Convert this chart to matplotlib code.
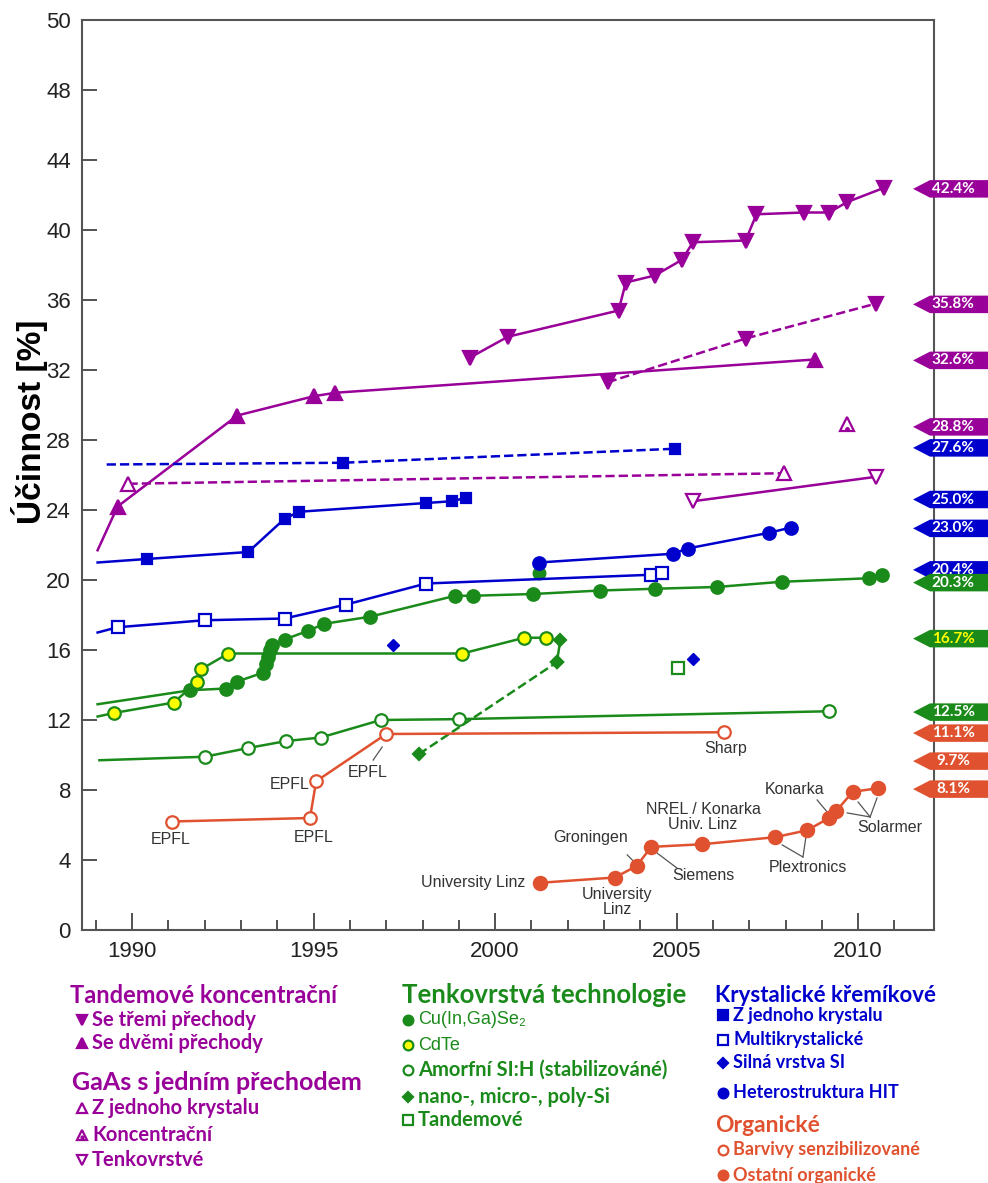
import matplotlib
matplotlib.use('Agg')
import matplotlib.pyplot as plt
from matplotlib.patches import Polygon
from matplotlib.transforms import blended_transform_factory

PURPLE = '#990099'
BLUE = '#0000cd'
GREEN = '#1a8a1a'
RED = '#e0522f'
YELLOW = '#ffff00'
GREY = '#333333'

# --- Tandem concentrators ---
tri3_year = [1999.3, 2000.35, 2003.4, 2003.6, 2004.4, 2005.15, 2005.45, 2006.9, 2007.2, 2008.5, 2009.2, 2009.7, 2010.7]
tri3_eff = [32.7, 33.9, 35.4, 37.0, 37.4, 38.3, 39.3, 39.4, 40.9, 41.0, 41.0, 41.6, 42.4]
tri3n_year = [2003.1, 2006.9, 2010.5]
tri3n_eff = [31.3, 33.8, 35.8]
tri2_year = [1989.05, 1989.6, 1992.9, 1995.0, 1995.6, 2008.8]
tri2_eff = [21.7, 24.2, 29.4, 30.5, 30.7, 32.6]

# --- GaAs single junction ---
gaas_sc_year = [1989.9, 2007.95]
gaas_sc_eff = [25.5, 26.1]
gaas_conc_year = [2009.7]
gaas_conc_eff = [28.9]
gaas_tf_year = [2005.45, 2010.5]
gaas_tf_eff = [24.5, 25.9]

# --- Crystalline Si ---
si_conc_year = [1989.3, 1995.8, 2004.95]
si_conc_eff = [26.6, 26.7, 27.5]
si_sc_year = [1989.05, 1990.4, 1993.2, 1994.2, 1994.6, 1998.1, 1998.8, 1999.2]
si_sc_eff = [21.0, 21.2, 21.6, 23.5, 23.9, 24.4, 24.5, 24.7]
si_mc_year = [1989.05, 1989.6, 1992.0, 1994.2, 1995.9, 1998.1, 2004.3, 2004.6]
si_mc_eff = [17.0, 17.3, 17.7, 17.8, 18.6, 19.8, 20.3, 20.4]
hit_year = [2001.2, 2004.9, 2005.3, 2007.55, 2008.15]
hit_eff = [21.0, 21.5, 21.8, 22.7, 23.0]
thick_year = [1997.2, 2005.45]
thick_eff = [16.3, 15.5]

# --- Thin film ---
cigs_year = [1989.05, 1991.6, 1992.6, 1992.9, 1993.6, 1993.7, 1993.75, 1993.8, 1993.85, 1994.2, 1994.85,
             1995.3, 1996.55, 1998.9, 1999.4, 2001.05, 2002.9, 2004.4, 2006.1, 2007.9, 2010.3, 2010.65]
cigs_eff = [12.9, 13.7, 13.8, 14.2, 14.7, 15.2, 15.6, 16.0, 16.3, 16.6, 17.1,
            17.5, 17.9, 19.1, 19.1, 19.2, 19.4, 19.5, 19.6, 19.9, 20.1, 20.3]
cigs_extra_year = [2001.2]
cigs_extra_eff = [20.4]
cdte_year = [1989.05, 1989.5, 1991.15, 1991.8, 1991.9, 1992.65, 1999.1, 2000.8, 2001.4]
cdte_eff = [12.2, 12.4, 13.0, 14.2, 14.9, 15.8, 15.8, 16.7, 16.7]
asi_year = [1989.1, 1992.0, 1993.2, 1994.25, 1995.2, 1996.85, 1999.0, 2009.2]
asi_eff = [9.7, 9.9, 10.4, 10.8, 11.0, 12.0, 12.05, 12.5]
nano_year = [1997.9, 2001.7, 2001.8]
nano_eff = [10.05, 15.3, 16.6]
tftandem_year = [2005.05]
tftandem_eff = [15.0]

# --- Organic ---
dye_year = [1991.1, 1994.9, 1995.07, 1997.0, 2006.3]
dye_eff = [6.2, 6.4, 8.5, 11.2, 11.3]
org_year = [2001.25, 2003.3, 2003.9, 2004.3, 2005.7, 2007.7, 2008.6, 2009.2, 2009.4, 2009.85, 2010.55]
org_eff = [2.7, 3.0, 3.66, 4.75, 4.9, 5.3, 5.7, 6.4, 6.8, 7.9, 8.1]

# record tags on the right
tag_values = [42.4, 35.8, 32.6, 28.8, 27.6, 25.0, 23.0, 20.4, 20.3, 16.7, 12.5, 11.1, 9.7, 8.1]
tag_colors = [PURPLE, PURPLE, PURPLE, PURPLE, BLUE, BLUE, BLUE, BLUE, GREEN, GREEN, GREEN, RED, RED, RED]

yticks = [0, 4, 8, 12, 16, 20, 24, 28, 32, 36, 40, 44, 48, 52]
ytick_labels = ['0', '4', '8', '12', '16', '20', '24', '28', '32', '36', '40', '44', '48', '50']
xticks = [1990, 1995, 2000, 2005, 2010]

ARIAL = ['Liberation Sans', 'DejaVu Sans']
CAL = ['Lato', 'DejaVu Sans']

fig = plt.figure(figsize=(9.88, 11.83), dpi=100)
ax = fig.add_axes([82/988, 1-930/1183, 852/988, 910/1183])
ax.set_xlim(1988.62, 2012.09)
ax.set_ylim(0, 52)


def draw(xs, ys, color, marker, ms, face, ls='-', skip=0, mec=None, mew=1.6):
    ax.plot(xs, ys, color=color, lw=1.8, ls=ls, marker=marker, ms=ms,
            mfc=face, mec=mec or color, mew=mew, markevery=slice(skip, None), zorder=3)


# tandem
draw(tri3_year, tri3_eff, PURPLE, 'v', 10.5, PURPLE)
draw(tri3n_year, tri3n_eff, PURPLE, 'v', 10.5, PURPLE, ls='--')
draw(tri2_year, tri2_eff, PURPLE, '^', 10.5, PURPLE, skip=1)
# GaAs
draw(gaas_sc_year, gaas_sc_eff, PURPLE, '^', 10.5, 'white', ls='--')
draw(gaas_conc_year, gaas_conc_eff, PURPLE, '^', 10.5, 'white')
ax.plot(gaas_conc_year, [v - 0.25 for v in gaas_conc_eff], 'o', ms=2.5, color=PURPLE, zorder=4)
draw(gaas_tf_year, gaas_tf_eff, PURPLE, 'v', 10.5, 'white')
# crystalline Si
draw(si_conc_year, si_conc_eff, BLUE, 's', 7.5, BLUE, ls='--', skip=1)
draw(si_sc_year, si_sc_eff, BLUE, 's', 7.5, BLUE, skip=1)
draw(si_mc_year, si_mc_eff, BLUE, 's', 8.5, 'white', skip=1)
draw(hit_year, hit_eff, BLUE, 'o', 9, BLUE)
ax.plot(thick_year, thick_eff, 'D', ms=6.5, color=BLUE, zorder=3)
# thin film
ax.plot(cigs_extra_year, cigs_extra_eff, 'o', ms=9, color=GREEN, zorder=2)
draw(cigs_year, cigs_eff, GREEN, 'o', 9, GREEN, skip=1)
draw(cdte_year, cdte_eff, GREEN, 'o', 9, YELLOW, skip=1)
draw(asi_year, asi_eff, GREEN, 'o', 9, 'white', skip=1)
draw(nano_year[:2], nano_eff[:2], GREEN, 'D', 6.5, GREEN, ls='--')
draw(nano_year[1:], nano_eff[1:], GREEN, 'D', 6.5, GREEN)
draw(tftandem_year, tftandem_eff, GREEN, 's', 9, 'white')
# organic
draw(dye_year, dye_eff, RED, 'o', 9, 'white')
draw(org_year, org_eff, RED, 'o', 9.5, RED)

# annotations
afont = dict(family=ARIAL, fontsize=11.5, color=GREY, ha='center', va='center')
ax.text(1991.05, 5.15, 'EPFL', **afont)
ax.text(1994.99, 5.3, 'EPFL', **afont)
ax.text(1994.35, 8.3, 'EPFL', **afont)
ax.text(1996.5, 9.0, 'EPFL', **afont)
ax.text(2006.34, 10.35, 'Sharp', **afont)
ax.text(2000.83, 2.74, 'University Linz', **dict(afont, ha='right'))
ax.text(2003.36, 1.6, 'University\nLinz', linespacing=1.0, **afont)
ax.text(2002.62, 5.26, 'Groningen', **afont)
ax.text(2005.73, 3.14, 'Siemens', **afont)
ax.text(2005.73, 6.45, 'NREL / Konarka\nUniv. Linz', linespacing=1.0, **afont)
ax.text(2008.26, 8.0, 'Konarka', **afont)
ax.text(2008.62, 3.6, 'Plextronics', **afont)
ax.text(2010.88, 5.83, 'Solarmer', **afont)
leaders = [((1996.64, 9.71), (1996.89, 10.46)),
           ((2003.64, 4.29), (2003.86, 3.83)),
           ((2004.46, 4.4), (2005.01, 3.54)),
           ((2008.87, 7.43), (2009.15, 6.74)),
           ((2007.91, 4.86), (2008.48, 4.17)),
           ((2008.57, 5.43), (2008.48, 4.17)),
           ((2009.70, 6.69), (2010.33, 6.46)),
           ((2010.0, 7.31), (2010.33, 6.46)),
           ((2010.52, 7.54), (2010.33, 6.46))]
for (x0, y0), (x1, y1) in leaders:
    ax.plot([x0, x1], [y0, y1], color='#555555', lw=0.9, zorder=2)

# right tags
trans = blended_transform_factory(ax.transAxes, ax.transData)
nudge = {25.0: -0.4, 20.4: 0.18, 20.3: -0.45, 11.1: 0.15}
h = 0.5
for val, col in zip(tag_values, tag_colors):
    y = val + nudge.get(val, -0.05)
    poly = Polygon([(0.9754, y), (0.9953, y + h), (1.07, y + h), (1.07, y - h), (0.9953, y - h)],
                   closed=True, transform=trans, facecolor=col, edgecolor='none',
                   clip_on=False, zorder=5)
    ax.add_patch(poly)
    ax.text(1.0225, y, f'{val:.1f}%', transform=trans, ha='center', va='center',
            fontsize=11, fontweight='bold', family=CAL,
            color=YELLOW if val == 16.7 else 'white', clip_on=False, zorder=6)

# axes styling
for s in ax.spines.values():
    s.set_color('#555555')
    s.set_linewidth(1.5)
ax.set_xticks(xticks)
ax.set_xticks(range(1989, 2012), minor=True)
ax.set_yticks(yticks)
ax.set_yticklabels(ytick_labels)
ax.tick_params(axis='x', which='major', direction='in', length=12, width=1.3, color='#444444',
               labelsize=16, pad=8)
ax.tick_params(axis='x', which='minor', direction='in', length=7, width=1.3, color='#444444')
ax.tick_params(axis='y', direction='in', length=11, width=1.3, color='#444444', labelsize=16, pad=8)
for lab in ax.get_xticklabels() + ax.get_yticklabels():
    lab.set_family(ARIAL)
    lab.set_color('#222222')
fig.text(30/988, 1-422/1183, 'Účinnost [%]', rotation=90, ha='center', va='center',
         fontsize=24, fontweight='bold', family=ARIAL)

# legend block, in pixel coordinates
lg = fig.add_axes([0, 0, 1, 1])
lg.set_xlim(0, 988)
lg.set_ylim(1183, 0)
lg.axis('off')
lg.patch.set_alpha(0)

headers = [('Tandemové koncentrační', PURPLE, 70, 995, 17),
           ('GaAs s jedním přechodem', PURPLE, 72, 1083, 18),
           ('Tenkovrstvá technologie', GREEN, 402, 995, 18.5),
           ('Krystalické křemíkové', BLUE, 715, 995, 16),
           ('Organické', RED, 715, 1125, 16.5)]
for txt, col, x, y, fs in headers:
    lg.text(x, y, txt, color=col, fontsize=fs, fontweight='bold', family=CAL, ha='left', va='center')

items = [
    ('v', PURPLE, PURPLE, 82, 1020, 'Se třemi přechody', CAL, 14.5),
    ('^', PURPLE, PURPLE, 82, 1043, 'Se dvěmi přechody', CAL, 14.5),
    ('^', 'white', PURPLE, 82, 1108, 'Z jednoho krystalu', CAL, 14.5),
    ('^', 'white', PURPLE, 82, 1135, 'Koncentrační', CAL, 14.5),
    ('v', 'white', PURPLE, 82, 1160, 'Tenkovrstvé', CAL, 14.5),
    ('o', GREEN, GREEN, 408, 1020, 'Cu(In,Ga)Se₂', ARIAL, 13),
    ('o', YELLOW, GREEN, 408, 1045, 'CdTe', ARIAL, 13),
    ('o', 'white', GREEN, 408, 1070, 'Amorfní SI:H (stabilizováné)', CAL, 14.5),
    ('D', GREEN, GREEN, 408, 1097, 'nano-, micro-, poly-Si', CAL, 14.5),
    ('s', 'white', GREEN, 408, 1120, 'Tandemové', CAL, 14.5),
    ('s', BLUE, BLUE, 723, 1015, 'Z jednoho krystalu', CAL, 13),
    ('s', 'white', BLUE, 723, 1040, 'Multikrystalické', CAL, 13),
    ('D', BLUE, BLUE, 723, 1063, 'Silná vrstva SI', CAL, 13),
    ('o', BLUE, BLUE, 723, 1093, 'Heterostruktura HIT', CAL, 13),
    ('o', 'white', RED, 723, 1150, 'Barvivy senzibilizované', CAL, 13),
    ('o', RED, RED, 723, 1175, 'Ostatní organické', CAL, 13),
]
for mk, face, col, x, y, txt, fam, fs in items:
    ms = 5 if mk == 'D' else 7
    lg.plot([x], [y], marker=mk, ms=ms, mfc=face, mec=col, mew=1.6, ls='none')
    weight = 'normal' if fam is ARIAL else 'bold'
    lg.text(x + 10, y, txt, color=col, fontsize=fs, fontweight=weight, family=fam,
            ha='left', va='center')
lg.plot([82], [1136.5], marker='o', ms=2, color=PURPLE, ls='none')

fig.savefig('out.png', dpi=100)
